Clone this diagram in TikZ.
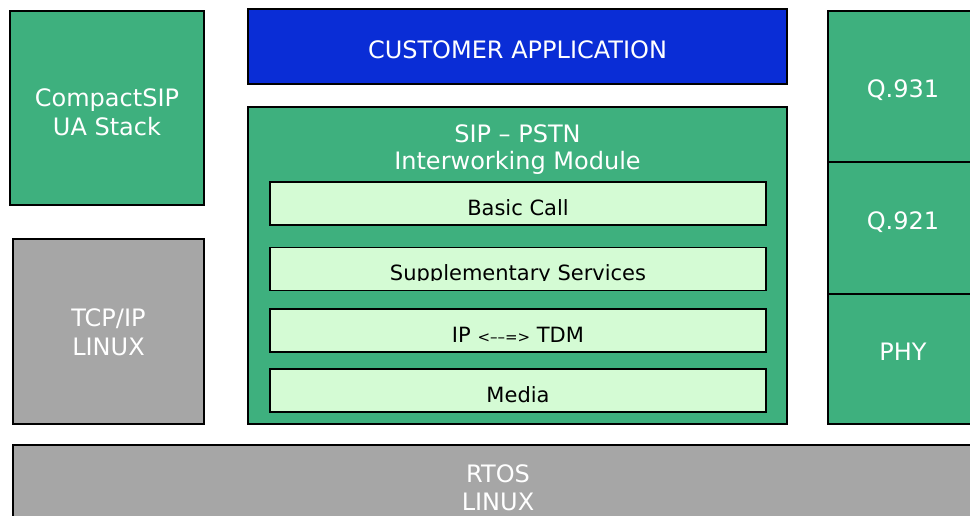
\documentclass[tikz,border=0pt]{standalone}
\usepackage{fontspec}
\setmainfont{DejaVu Sans}
\usetikzlibrary{positioning}
\definecolor{modgreen}{RGB}{62,176,126}
\definecolor{subgreen}{RGB}{212,251,212}
\definecolor{osgray}{RGB}{166,166,166}
\definecolor{appblue}{RGB}{10,45,214}
\tikzstyle{block} = [rectangle, draw=black, line width=1.4pt, inner sep=0, align=center, text=white, text depth=0pt, font=\fontsize{24}{29}\selectfont]
\tikzstyle{green} = [block, fill=modgreen]
\tikzstyle{gray} = [block, fill=osgray]
\tikzstyle{sub} = [block, fill=subgreen, text=black, text height=23pt, font=\fontsize{21}{25}\selectfont, minimum width=496pt, minimum height=43pt]

\begin{document}
\begin{tikzpicture}[x=1pt, y=-1pt]
	\useasboundingbox (0, 0) rectangle (970, 516);
	\clip (0, 0) rectangle (970, 516);
	% left column
	\node[green, text height=56pt, minimum width=194pt, minimum height=194pt] (stack) at (107, 108) {CompactSIP\\UA Stack};
	\node[gray, text height=47pt, minimum width=191pt, minimum height=185pt] (tcpip) at (108.5, 331.5) {TCP/IP\\LINUX};
	% middle column
	\node[block, fill=appblue, text height=24.4pt, minimum width=539pt, minimum height=75pt] (app) at (517.5, 46.5) {CUSTOMER APPLICATION};
	\node[green, minimum width=539pt, minimum height=317pt] (iwf) at (517.5, 265.5) {};
	\node[text=white, align=center, inner sep=0, text height=44pt, text depth=0pt, font=\fontsize{24}{27.5}\selectfont] (iwftitle) at (517.5, 148) {SIP – PSTN\\Interworking Module};
	\node[sub] (basic) at (518, 203.5) {Basic Call};
	\node[sub] (supp) at (518, 269) {};
	\begin{scope}
		\clip (supp.north west) rectangle ([yshift=-11pt]supp.east);
		\node[text height=23pt, text depth=0pt, inner sep=0, font=\fontsize{21}{25}\selectfont] (supptext) at (supp.center) {Supplementary Services};
	\end{scope}
	\node[sub] (iptdm) at (518, 330.5) {IP {\fontsize{15}{17}\selectfont<––=>} TDM};
	\node[sub] (media) at (518, 390.5) {Media};
	% right column
	\node[green, text height=21.6pt, minimum width=150pt, minimum height=151pt] (q931) at (903, 86.5) {Q.931};
	\node[green, text height=3pt, minimum width=150pt, minimum height=132pt] (q921) at (903, 228) {Q.921};
	\node[green, text height=3pt, minimum width=150pt, minimum height=130pt] (phy) at (903, 359) {PHY};
	% bottom
	\node[gray, text height=40pt, font=\fontsize{24}{28}\selectfont, minimum width=970pt, minimum height=90pt] (rtos) at (498, 490) {RTOS\\LINUX};
\end{tikzpicture}
\end{document}
